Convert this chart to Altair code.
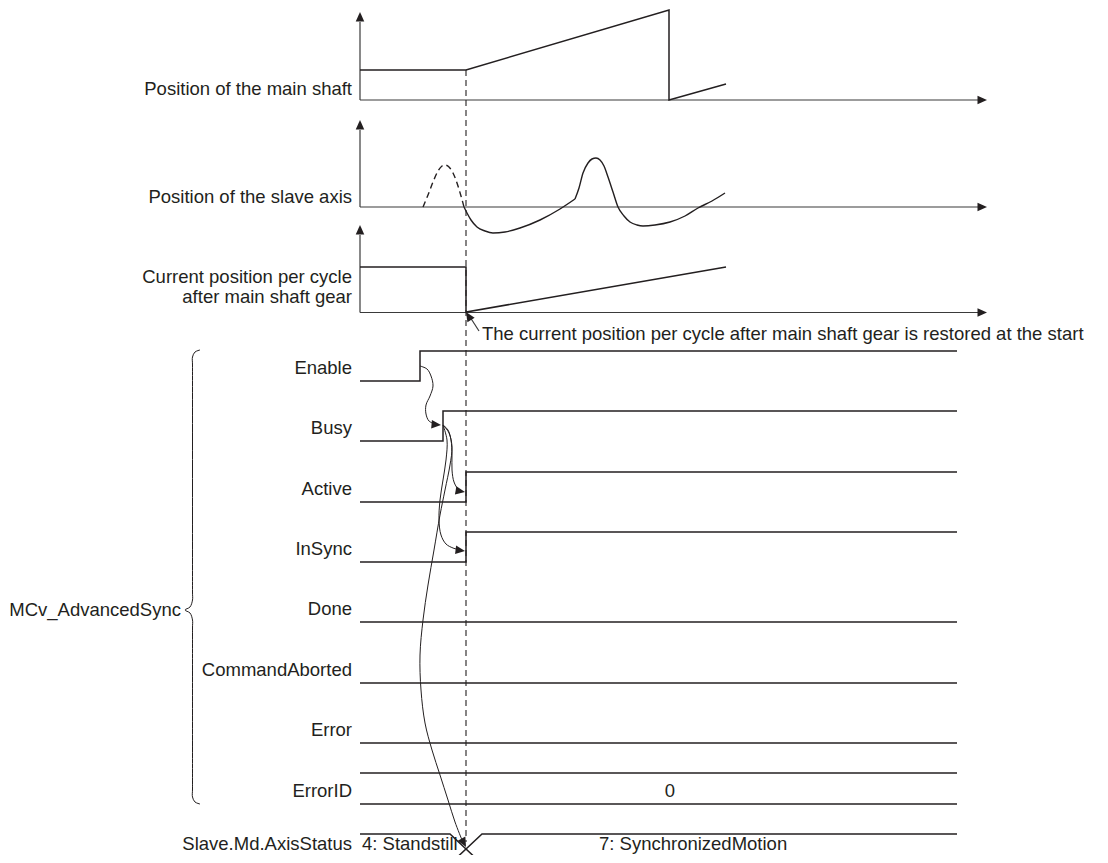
import altair as alt
import pandas as pd

FONT = "Liberation Sans"
INK = "#231f20"
FS = 18.5

# ---------------- data (diagram time / level units) ----------------
# analog panels
main_x = [360, 466, 669, 669, 726]
main_y = [70, 70, 10, 100, 84]
cur_x = [360, 466, 466, 726]
cur_y = [267, 267, 312, 267]
slave_a_x = [464, 467, 471, 477, 485, 493, 505, 520, 540, 560, 575]
slave_a_y = [207, 213, 220, 227, 231, 233, 232, 228, 220, 209, 199]
slave_b_x = [575, 579, 583, 588, 592, 596, 600, 604, 608, 613, 618, 624, 630, 637, 643, 655, 670, 685, 698, 712, 725]
slave_b_y = [199, 188, 173, 163, 159, 158, 160, 166, 177, 192, 207, 216, 222, 225, 226, 225, 222, 216, 208, 201, 193]
slave_dash_x = [423, 428, 433, 438, 442, 445, 449, 453, 457, 461, 464]
slave_dash_y = [207, 195, 182, 171, 166, 165, 167, 173, 183, 196, 207]

# axes of analog panels
axis_origin_x = 360
axis_tops = [22, 130, 235]
axis_bases = [100, 207, 312.5]
axis_x_end = 978
axis_tip_x = 987

# digital signals
enable_x = [360, 420, 420, 957]; enable_y = [381, 381, 351, 351]
busy_x = [360, 443, 443, 957]; busy_y = [441, 441, 411, 411]
active_x = [360, 466, 466, 957]; active_y = [502, 502, 472, 472]
insync_x = [360, 466, 466, 957]; insync_y = [562, 562, 532, 532]
flat_rows_y = [622, 683, 743, 773, 804]
flat_x = [360, 957]
status_left_x = [360, 450, 482]; status_left_y = [834, 834, 864]
status_right_x = [450, 482, 957]; status_right_y = [864, 834, 834]

start_x = [466, 466]; start_y = [70, 842]

# annotation arrow
note_x = [479, 470]; note_y = [331, 317]

# curved cause arrows
c1_x = [420, 427, 431, 433, 430, 426, 426, 429, 435]
c1_y = [366, 369, 376, 386, 396, 405, 414, 421, 424]
c2_x = [443, 448, 451, 452, 452, 454, 458, 461]
c2_y = [425, 430, 440, 455, 470, 482, 489, 491]
c3_x = [443, 447, 446, 443, 440, 439, 441, 446, 453, 460]
c3_y = [425, 440, 460, 480, 500, 520, 535, 544, 548, 550]
c4_x = [443, 449, 452, 450, 445, 440, 434, 428, 423, 420, 421, 425, 432, 440, 448, 455, 462]
c4_y = [425, 433, 447, 465, 490, 515, 550, 585, 620, 655, 690, 723, 750, 775, 800, 822, 840]

# brace
brace_x = [200, 195, 192.5, 192.5, 192.5, 192.5, 190, 185, 190, 192.5, 192.5, 192.5, 192.5, 195, 200]
brace_y = [350, 352, 357, 365, 592, 600, 607, 610, 613, 620, 628, 789, 797, 802, 804]

# arrowheads: tip position and heading (deg clockwise from up)
head_x = [360, axis_tip_x, 360, axis_tip_x, 360, axis_tip_x, 466, 441, 465, 465, 466]
head_y = [12, 100, 120, 207, 225, 312.5, 312, 425, 492, 551, 847]
head_ang = [0, 90, 0, 90, 0, 90, 328, 95, 100, 97, 152]

# texts
right_labels = ["Position of the main shaft", "Position of the slave axis",
                "Current position per cycle", "after main shaft gear",
                "Enable", "Busy", "Active", "InSync", "Done", "CommandAborted",
                "Error", "ErrorID", "Slave.Md.AxisStatus"]
right_y = [95, 203, 283, 303, 374, 434, 495, 555, 615, 676, 736, 797, 850]
right_x = 352
group_label = "MCv_AdvancedSync"
group_xy = (181, 616)
left_labels = ["The current position per cycle after main shaft gear is restored at the start",
               "4: Standstill", "7: SynchronizedMotion"]
left_x = [482, 362, 599]
left_y = [340, 850, 850]
center_labels = ["0"]
center_x = [670]
center_y = [797]


# ---------------- build tables ----------------
def rows(name, xs, ys):
    return [{"path": name, "ord": i, "x": x, "y": y} for i, (x, y) in enumerate(zip(xs, ys))]

signal = []
signal += rows("enable", enable_x, enable_y)
signal += rows("busy", busy_x, busy_y)
signal += rows("active", active_x, active_y)
signal += rows("insync", insync_x, insync_y)
for i, yv in enumerate(flat_rows_y):
    signal += rows(f"flat{i}", flat_x, [yv, yv])
signal += rows("stl", status_left_x, status_left_y)
signal += rows("str", status_right_x, status_right_y)
signal += rows("main", main_x, main_y)
signal += rows("cur", cur_x, cur_y)
signal_df = pd.DataFrame(signal)

axes = []
for i in range(3):
    axes += rows(f"ay{i}", [axis_origin_x, axis_origin_x], [axis_tops[i], axis_bases[i]])
    axes += rows(f"ax{i}", [axis_origin_x, axis_x_end], [axis_bases[i], axis_bases[i]])
axes += rows("note", note_x, note_y)
axes_df = pd.DataFrame(axes)

smooth_df = pd.DataFrame(rows("sa", slave_a_x, slave_a_y) + rows("sb", slave_b_x, slave_b_y))
dash_curve_df = pd.DataFrame(rows("sd", slave_dash_x, slave_dash_y))
dash_line_df = pd.DataFrame(rows("start", start_x, start_y))
curves_df = pd.DataFrame(rows("c1", c1_x, c1_y) + rows("c2", c2_x, c2_y) +
                         rows("c3", c3_x, c3_y) + rows("c4", c4_x, c4_y) +
                         rows("brace", brace_x, brace_y))
heads_df = pd.DataFrame({"x": head_x, "y": head_y, "ang": head_ang})
rtext_df = pd.DataFrame({"x": [right_x] * len(right_labels) + [group_xy[0]],
                         "y": right_y + [group_xy[1]],
                         "label": right_labels + [group_label]})
ltext_df = pd.DataFrame({"x": left_x, "y": left_y, "label": left_labels})
ctext_df = pd.DataFrame({"x": center_x, "y": center_y, "label": center_labels})

# ---------------- chart ----------------
xsc = alt.Scale(domain=[8, 1100], nice=False, zero=False)
ysc = alt.Scale(domain=[8, 855], nice=False, zero=False, reverse=True)
X = alt.X("x:Q", scale=xsc, axis=None)
Y = alt.Y("y:Q", scale=ysc, axis=None)

def lines(df, width, dash=None, interp="linear", color=INK):
    kw = dict(interpolate=interp, strokeWidth=width, color=color, clip=True)
    if dash:
        kw["strokeDash"] = dash
    return alt.Chart(df).mark_line(**kw).encode(
        x=X, y=Y, detail="path:N", order="ord:Q")

ARROW = "M0,0L0.9,2L-0.9,2Z"

layers = [
    lines(axes_df, 1.2, color="#3a3a3a"),
    lines(signal_df, 1.5),
    lines(dash_line_df, 1.1, dash=[6, 4]),
    lines(smooth_df, 1.4, interp="monotone"),
    lines(dash_curve_df, 1.4, dash=[6, 4], interp="monotone"),
    lines(curves_df, 1.0, interp="catmull-rom"),
    alt.Chart(heads_df).mark_point(shape=ARROW, filled=True, size=90, color=INK,
                                   opacity=1, strokeWidth=0).encode(
        x=X, y=Y, angle=alt.Angle("ang:Q", scale=None)),
    alt.Chart(rtext_df).mark_text(align="right", baseline="alphabetic", font=FONT,
                                  fontSize=FS, color=INK).encode(x=X, y=Y, text="label:N"),
    alt.Chart(ltext_df).mark_text(align="left", baseline="alphabetic", font=FONT,
                                  fontSize=FS, color=INK).encode(x=X, y=Y, text="label:N"),
    alt.Chart(ctext_df).mark_text(align="center", baseline="alphabetic", font=FONT,
                                  fontSize=FS, color=INK).encode(x=X, y=Y, text="label:N"),
]

chart = alt.layer(*layers).properties(
    width=1092, height=847, padding=0,
    autosize=alt.AutoSizeParams(type="none"), background="white",
).configure_view(stroke=None)

chart.save("out.html", embed_options={"renderer": "svg", "actions": False})
